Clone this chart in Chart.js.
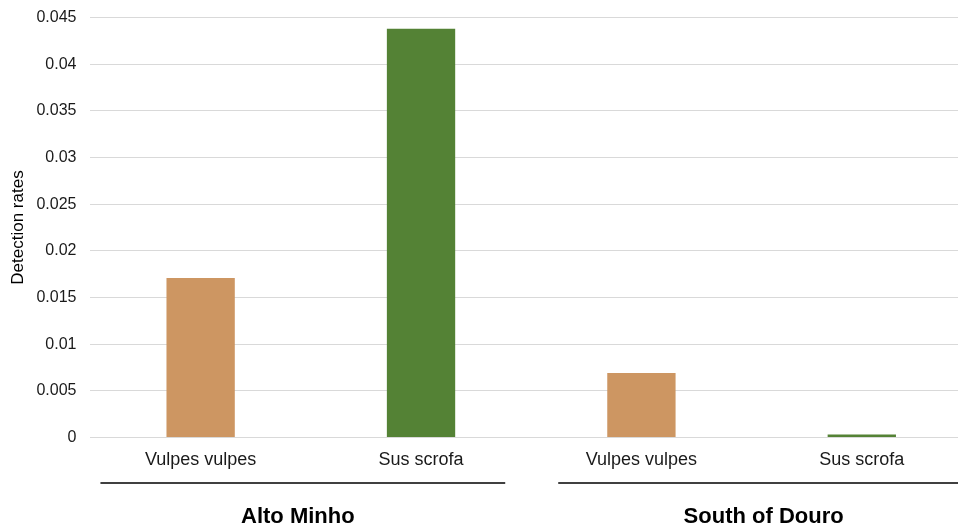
<!DOCTYPE html>
<html>
<head>
<meta charset="utf-8">
<script src="https://cdn.jsdelivr.net/npm/chart.js@4/dist/chart.umd.min.js"></script>
<style>
  html, body { margin: 0; padding: 0; background: #fff; overflow: hidden; }
  #wrap { width: 972px; height: 540px; position: absolute; left: 0; top: -6px; }
</style>
</head>
<body>
<div id="wrap"><canvas id="myChart" width="972" height="540"></canvas></div>
<script>
// chart data
var species = ['Vulpes vulpes', 'Sus scrofa', 'Vulpes vulpes', 'Sus scrofa'];
var regions = ['Alto Minho', 'South of Douro'];
var detectionRates = [0.0171, 0.0438, 0.0069, 0.0003];
var yTickLabels = ['0', '0.005', '0.01', '0.015', '0.02', '0.025', '0.03', '0.035', '0.04', '0.045'];

var barColors = ['#CD9662', '#548235', '#CD9662', '#548235'];

// draws the region lines and names under the species labels
var groupPlugin = {
	id: 'groups',
	afterDraw: function(chart) {
		var ctx = chart.ctx;
		var x = chart.scales.x;
		var half = (x.getPixelForValue(1) - x.getPixelForValue(0)) / 2;
		var insets = [[10, 26], [27, -20]];
		var shift = [-13, 12];
		ctx.save();
		for (var g = 0; g < regions.length; g++) {
			var left = x.getPixelForValue(g * 2) - half + insets[g][0];
			var right = x.getPixelForValue(g * 2 + 1) + half - insets[g][1];
			ctx.strokeStyle = '#000';
			ctx.lineWidth = 1.5;
			ctx.beginPath();
			ctx.moveTo(left, 489);
			ctx.lineTo(right, 489);
			ctx.stroke();
			var mid = (x.getPixelForValue(g * 2) + x.getPixelForValue(g * 2 + 1)) / 2;
			ctx.fillStyle = '#000';
			ctx.font = 'bold 22px "Liberation Sans", Arial, sans-serif';
			ctx.textAlign = 'center';
			ctx.textBaseline = 'middle';
			ctx.fillText(regions[g], mid + shift[g], 523);
		}
		ctx.restore();
	}
};

const ctx = document.getElementById('myChart').getContext('2d');
const myChart = new Chart(ctx, {
	type: 'bar',
	data: {
		labels: species,
		datasets: [{
			label: 'Detection rates',
			data: detectionRates,
			backgroundColor: barColors,
			borderWidth: 0,
			categoryPercentage: 1,
			barPercentage: 0.31
		}]
	},
	options: {
		responsive: false,
		animation: false,
		layout: { padding: { top: 2, bottom: 51, left: 4, right: 0 } },
		plugins: {
			legend: { display: false },
			tooltip: { enabled: false }
		},
		scales: {
			x: {
				grid: { display: false, drawTicks: false },
				border: { display: false },
				ticks: {
					color: '#1a1a1a',
					padding: 12,
					font: { family: '"Liberation Sans", Arial, sans-serif', size: 18 }
				}
			},
			y: {
				min: 0,
				max: 0.045,
				border: { display: false },
				grid: { color: '#d9d9d9', lineWidth: 1, drawTicks: false },
				ticks: {
					stepSize: 0.005,
					padding: 14,
					color: '#1a1a1a',
					font: { family: '"Liberation Sans", Arial, sans-serif', size: 16 },
					callback: function(value, index) { return yTickLabels[index]; }
				},
				title: {
					display: true,
					text: 'Detection rates',
					color: '#000',
					padding: { top: 4, bottom: -6 },
					font: { family: '"Liberation Sans", Arial, sans-serif', size: 17 }
				}
			}
		}
	},
	plugins: [groupPlugin]
});
</script>
</body>
</html>
